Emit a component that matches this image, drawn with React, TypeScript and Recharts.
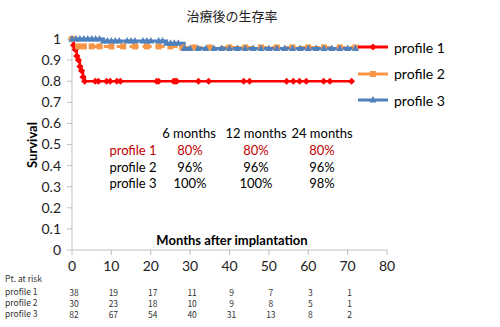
import { LineChart, Line, XAxis, YAxis } from 'recharts';

const xTicks = [0, 10, 20, 30, 40, 50, 60, 70, 80];
const yTicks = [0, 0.1, 0.2, 0.3, 0.4, 0.5, 0.6, 0.7, 0.8, 0.9, 1];

const p1Months = [0, 0.4, 0.8, 1.2, 1.6, 2, 2.4, 2.8, 3.2, 5.9, 6.7, 8.8, 9.7, 11.4, 12.3, 21.5, 22, 25.8, 26.2, 26.6, 32.1, 34.7, 43.6, 45.1, 54.5, 56.2, 57.8, 59.5, 63.9, 65.5, 71];
const p1Survival = [1, 0.97, 0.95, 0.92, 0.9, 0.87, 0.85, 0.82, 0.8, 0.8, 0.8, 0.8, 0.8, 0.8, 0.8, 0.8, 0.8, 0.8, 0.8, 0.8, 0.8, 0.8, 0.8, 0.8, 0.8, 0.8, 0.8, 0.8, 0.8, 0.8, 0.8];

const p2Months = [0, 1.5, 3, 5, 7, 10, 13, 16, 19, 22, 25, 28, 31, 35, 40, 44, 48, 52, 56, 60, 64, 68, 72];
const p2Survival = [1, 0.965, 0.965, 0.965, 0.965, 0.965, 0.965, 0.965, 0.965, 0.965, 0.965, 0.96, 0.96, 0.96, 0.96, 0.96, 0.96, 0.96, 0.96, 0.96, 0.96, 0.96, 0.96];

const p3Months = [0, 1, 2, 3, 4, 5, 6, 7, 8, 9, 10, 11, 12, 14, 15, 16, 18, 19, 20, 22, 23, 24, 25, 26, 27, 28.5, 30, 32, 34, 36, 38, 40, 42, 44, 46, 48, 50, 52, 54, 56, 58, 60, 62, 64, 66, 68, 70, 72];
const p3Survival = [1, 1, 1, 1, 1, 1, 1, 1, 0.99, 0.99, 0.99, 0.99, 0.99, 0.99, 0.99, 0.99, 0.99, 0.99, 0.99, 0.99, 0.99, 0.98, 0.98, 0.98, 0.98, 0.955, 0.955, 0.955, 0.955, 0.955, 0.955, 0.955, 0.955, 0.955, 0.955, 0.955, 0.955, 0.955, 0.955, 0.955, 0.955, 0.955, 0.955, 0.955, 0.955, 0.955, 0.955, 0.955];

const riskMonths = [0, 10, 20, 30, 40, 50, 60, 70];
const riskP1 = [38, 19, 17, 11, 9, 7, 3, 1];
const riskP2 = [30, 23, 18, 10, 9, 8, 5, 1];
const riskP3 = [82, 67, 54, 40, 31, 13, 8, 2];

const tableHeads = ['6 months', '12 months', '24 months'];
const tableP1 = ['80%', '80%', '80%'];
const tableP2 = ['96%', '96%', '96%'];
const tableP3 = ['100%', '100%', '98%'];

const toRows = (xs: number[], ys: number[]) => xs.map((m, i) => ({ m, s: ys[i] }));

const series = [
  { name: 'profile 1', data: toRows(p1Months, p1Survival), color: '#ff0000', shape: 'diamond', dash: undefined, width: 2.5 },
  { name: 'profile 2', data: toRows(p2Months, p2Survival), color: '#f79646', shape: 'square', dash: '9 4', width: 3 },
  { name: 'profile 3', data: toRows(p3Months, p3Survival), color: '#4f81bd', shape: 'triangle', dash: undefined, width: 3 },
];

function Marker({ cx, cy, shape, color }: any) {
  if (cx == null || cy == null) return null;
  if (shape === 'diamond')
    return <polygon points={`${cx},${cy - 3.5} ${cx + 3.5},${cy} ${cx},${cy + 3.5} ${cx - 3.5},${cy}`} fill={color} />;
  if (shape === 'square') return <rect x={cx - 3} y={cy - 3} width={6} height={6} fill={color} />;
  return <polygon points={`${cx},${cy - 4} ${cx + 3.5},${cy + 2.5} ${cx - 3.5},${cy + 2.5}`} fill={color} />;
}

const font = 'Lato, "Noto Sans", sans-serif';
const jp = '"Noto Sans CJK JP", sans-serif';

function Txt({ x, y, children, style }: any) {
  return (
    <div
      style={{
        position: 'absolute',
        left: x,
        top: y,
        transform: 'translate(-50%, -50%)',
        whiteSpace: 'nowrap',
        fontFamily: font,
        ...style,
      }}
    >
      {children}
    </div>
  );
}

// plot area: x 0 -> 72px, 80 -> 387px
const xPx = (m: number) => 72 + (m / 80) * 315;

function LegendBox() {
  return (
    <div style={{ position: 'absolute', left: 358, top: 34, fontFamily: font, fontSize: 14, color: '#000' }}>
      {series.map((s) => (
        <div key={s.name} style={{ display: 'flex', alignItems: 'center', height: 26.5 }}>
          <svg width={30} height={12}>
            <line x1={0} y1={6} x2={30} y2={6} stroke={s.color} strokeWidth={3} />
            <Marker cx={15} cy={6} shape={s.shape} color={s.color} />
          </svg>
          <span style={{ marginLeft: 6 }}>{s.name}</span>
        </div>
      ))}
    </div>
  );
}

export default function App() {
  const tableCols = [190, 256, 322];
  return (
    <div style={{ position: 'fixed', left: 0, top: 0, width: 500, height: 327, background: '#fff' }}>
      <LineChart width={500} height={327} margin={{ top: 39, right: 113, left: 12, bottom: 47 }}>
        <XAxis
          type="number"
          dataKey="m"
          domain={[0, 80]}
          ticks={xTicks}
          height={30}
          stroke="#bfbfbf"
          tickSize={5}
          tickMargin={6}
          tick={{ fontSize: 14, fill: '#222', fontFamily: font }}
        />
        <YAxis
          type="number"
          dataKey="s"
          domain={[0, 1]}
          ticks={yTicks}
          width={60}
          stroke="#bfbfbf"
          tickSize={5}
          tickMargin={6}
          tick={{ fontSize: 14, fill: '#222', fontFamily: font }}
        />
        {series.map((s) => (
          <Line
            key={s.name}
            name={s.name}
            data={s.data}
            dataKey="s"
            type="stepAfter"
            stroke={s.color}
            strokeWidth={s.width}
            strokeDasharray={s.dash}
            dot={(p: any) => <Marker key={p.index} cx={p.cx} cy={p.cy} shape={s.shape} color={s.color} />}
            isAnimationActive={false}
          />
        ))}
      </LineChart>

      <LegendBox />

      <Txt x={232} y={15} style={{ fontFamily: jp, fontSize: 13, color: '#222' }}>
        治療後の生存率
      </Txt>
      <Txt x={32} y={145} style={{ fontSize: 13, fontWeight: 'bold', transform: 'translate(-50%, -50%) rotate(-90deg)' }}>
        Survival
      </Txt>

      {tableHeads.map((h, i) => (
        <Txt key={h} x={[189, 256, 322][i]} y={133} style={{ fontSize: 13 }}>
          {h}
        </Txt>
      ))}
      {[
        { label: 'profile 1', vals: tableP1, color: '#c00000', y: 150 },
        { label: 'profile 2', vals: tableP2, color: '#000', y: 167 },
        { label: 'profile 3', vals: tableP3, color: '#000', y: 183 },
      ].map((r) => (
        <div key={r.label}>
          <Txt x={133} y={r.y} style={{ fontSize: 13, color: r.color }}>
            {r.label}
          </Txt>
          {r.vals.map((v, i) => (
            <Txt key={i} x={tableCols[i]} y={r.y} style={{ fontSize: 13, color: r.color }}>
              {v}
            </Txt>
          ))}
        </div>
      ))}
      <Txt x={232} y={240} style={{ fontSize: 13, fontWeight: 'bold' }}>
        Months after implantation
      </Txt>

      <div style={{ position: 'absolute', left: 5, top: 272, fontFamily: jp, fontSize: 8.5, color: '#333' }}>
        Pt. at risk
      </div>
      {[
        { label: 'profile 1', vals: riskP1, y: 292 },
        { label: 'profile 2', vals: riskP2, y: 303 },
        { label: 'profile 3', vals: riskP3, y: 314 },
      ].map((r) => (
        <div key={r.label}>
          <div style={{ position: 'absolute', left: 5, top: r.y - 7, fontFamily: jp, fontSize: 8.5, color: '#333' }}>
            {r.label}
          </div>
          {r.vals.map((v, i) => (
            <Txt key={i} x={xPx(riskMonths[i]) + 2} y={r.y} style={{ fontFamily: jp, fontSize: 8.5, color: '#333' }}>
              {v}
            </Txt>
          ))}
        </div>
      ))}
    </div>
  );
}
